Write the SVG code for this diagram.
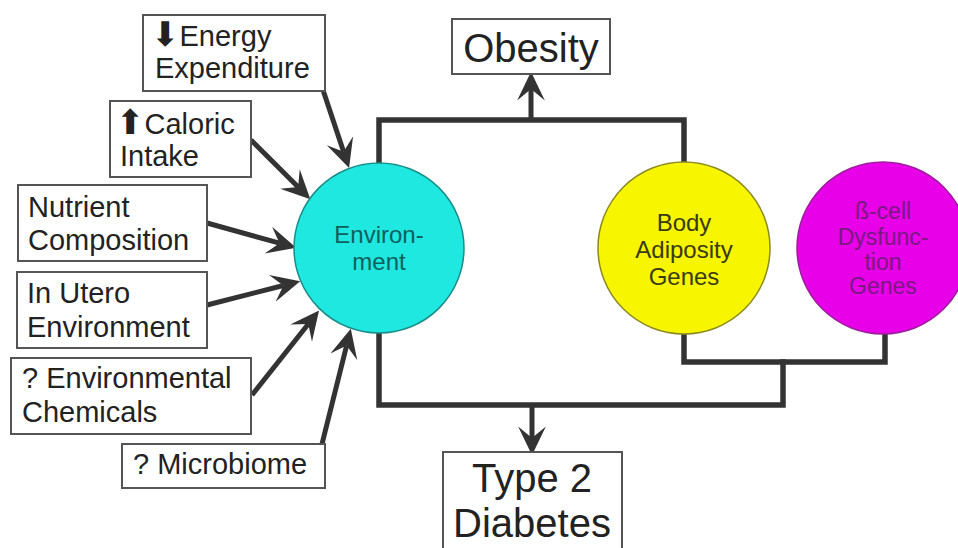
<svg xmlns="http://www.w3.org/2000/svg" width="958" height="548" viewBox="0 0 958 548">
<defs>
<style>
.box{fill:#fff;stroke:#555;stroke-width:2}
.bt{font-family:"Liberation Sans",Arial,sans-serif;font-size:29px;fill:#222}
.ic{font-family:"DejaVu Sans",sans-serif;font-size:34px;fill:#222}
.big{font-family:"Liberation Sans",Arial,sans-serif;font-size:40px;fill:#222;text-anchor:middle}
.ct{font-family:"Liberation Sans",Arial,sans-serif;font-size:24px;text-anchor:middle}
.mt{font-family:"Liberation Sans",Arial,sans-serif;font-size:23px;text-anchor:middle;fill:#7a1a82}
.conn{fill:none;stroke:#333;stroke-width:5.5;stroke-linejoin:miter;stroke-linecap:square}
.arr{fill:none;stroke:#333;stroke-width:5;marker-end:url(#ah)}
</style>
<marker id="ah" markerUnits="userSpaceOnUse" markerWidth="30" markerHeight="30" viewBox="0 -13 26 26" refX="10" refY="0" orient="auto">
<path d="M0,-12 L25,0 L0,12 L10,0 Z" fill="#333"/>
</marker>
</defs>
<rect width="958" height="548" fill="#fff"/>

<g id="connectors">
<path class="conn" d="M379,163 V120 H684 V161"/>
<path class="conn" d="M379,333 V405 H783 V362"/>
<path class="conn" d="M684,334 V362 H885 V334"/>
<line class="arr" x1="531" y1="120" x2="531" y2="89"/>
<line class="arr" x1="532" y1="405" x2="532" y2="438"/>
<line class="arr" x1="323" y1="90" x2="343.6" y2="151.7"/>
<line class="arr" x1="251" y1="140" x2="298.1" y2="187.1"/>
<line class="arr" x1="207" y1="223" x2="279.5" y2="243.2"/>
<line class="arr" x1="207" y1="305" x2="283.4" y2="285.5"/>
<line class="arr" x1="252" y1="395" x2="308.3" y2="324"/>
<line class="arr" x1="322" y1="444" x2="346.6" y2="345.6"/>
</g>

<g id="energy">
<rect class="box" x="143" y="15" width="182" height="76"/>
<text class="bt" x="151" y="46"><tspan class="ic">⬇</tspan>Energy</text>
<text class="bt" x="155" y="78">Expenditure</text>
</g>
<g id="caloric">
<rect class="box" x="110" y="101" width="141" height="76"/>
<text class="bt" x="116" y="134"><tspan class="ic">⬆</tspan>Caloric</text>
<text class="bt" x="120" y="166">Intake</text>
</g>
<g id="nutrient">
<rect class="box" x="18" y="185" width="189" height="76"/>
<text class="bt" x="28" y="217">Nutrient</text>
<text class="bt" x="28" y="250">Composition</text>
</g>
<g id="inutero">
<rect class="box" x="17" y="272" width="190" height="76"/>
<text class="bt" x="27" y="303">In Utero</text>
<text class="bt" x="27" y="337">Environment</text>
</g>
<g id="chemicals">
<rect class="box" x="11" y="358" width="240" height="76"/>
<text class="bt" x="22" y="388">? Environmental</text>
<text class="bt" x="22" y="422">Chemicals</text>
</g>
<g id="microbiome">
<rect class="box" x="122" y="444" width="203" height="44"/>
<text class="bt" x="133" y="474">? Microbiome</text>
</g>

<g id="environment">
<circle cx="379" cy="248" r="85" fill="#1ee8e0" stroke="#1a8d89" stroke-width="1.5"/>
<text class="ct" fill="#0e5f5e" x="379" y="243">Environ-</text>
<text class="ct" fill="#0e5f5e" x="379" y="270">ment</text>
</g>
<g id="adiposity">
<circle cx="684" cy="248" r="86" fill="#f7f500" stroke="#8a8a20" stroke-width="1.5"/>
<text class="ct" fill="#3a3a14" x="684" y="231">Body</text>
<text class="ct" fill="#3a3a14" x="684" y="258">Adiposity</text>
<text class="ct" fill="#3a3a14" x="684" y="285">Genes</text>
</g>
<g id="betacell">
<circle cx="883" cy="248" r="86" fill="#e800e8" stroke="#9a209a" stroke-width="1.5"/>
<text class="mt" x="883" y="219">ß-cell</text>
<text class="mt" x="883" y="245">Dysfunc-</text>
<text class="mt" x="883" y="270">tion</text>
<text class="mt" x="883" y="294">Genes</text>
</g>

<g id="obesity">
<rect class="box" x="452" y="19" width="158" height="55"/>
<text class="big" x="531" y="62">Obesity</text>
</g>
<g id="t2d">
<rect class="box" x="443" y="452" width="179" height="110"/>
<text class="big" x="532" y="492">Type 2</text>
<text class="big" x="532" y="537">Diabetes</text>
</g>
</svg>
